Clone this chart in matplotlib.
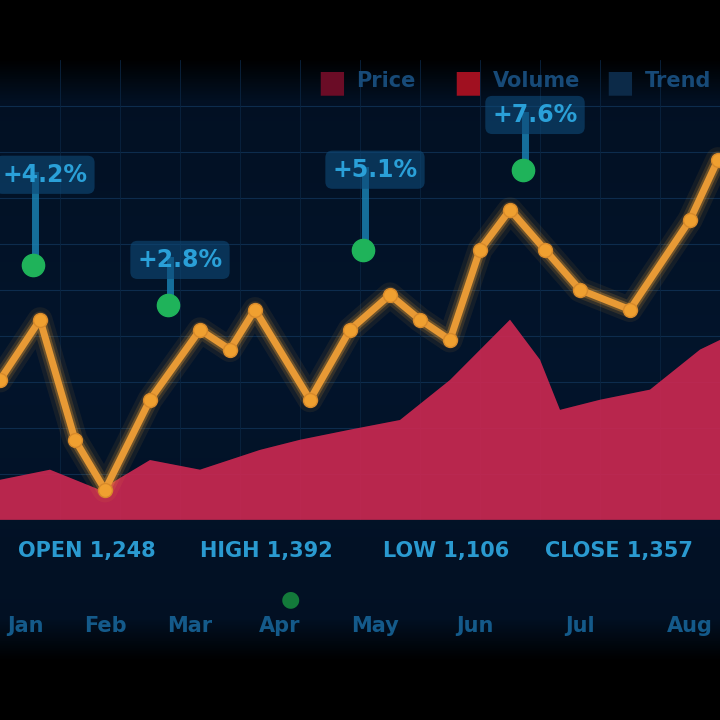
import numpy as np
import matplotlib
matplotlib.use("Agg")
import matplotlib.pyplot as plt

# price line (orange) and volume area (red)
days = [0, 40, 75, 105, 150, 200, 230, 255, 310, 350, 390, 420, 450, 480, 510, 545, 580, 630, 690, 718]
price = [30.4, 43.5, 17.4, 6.5, 26.1, 41.3, 37.0, 45.7, 26.1, 41.3, 48.9, 43.5, 39.1, 58.7, 67.4, 58.7, 50.0, 45.7, 65.2, 78.3]
vol_days = [0, 50, 100, 150, 200, 260, 300, 350, 400, 450, 510, 540, 560, 600, 650, 700, 720]
volume = [8.7, 10.9, 6.5, 13.0, 10.9, 15.2, 17.4, 19.6, 21.7, 30.4, 43.5, 34.8, 23.9, 26.1, 28.3, 37.0, 39.1]

# peak callouts
peak_days = [30, 165, 360, 520]
peak_vals = [55.4, 46.7, 58.7, 76.1]
peak_box = [75.0, 56.5, 76.1, 88.0]
peak_text = ["+4.2%", "+2.8%", "+5.1%", "+7.6%"]

legend_items = ["Price", "Volume", "Trend"]
tick_labels = ["Jan", "Feb", "Mar", "Apr", "May", "Jun", "Jul", "Aug"]
tick_pos = [25, 105, 190, 280, 375, 475, 580, 690]
stats = ["OPEN 1,248", "HIGH 1,392", "LOW 1,106", "CLOSE 1,357"]
stats_x = [0.12, 0.37, 0.62, 0.86]

fig = plt.figure(figsize=(7.2, 7.2), dpi=100, facecolor="black")

# background gradient
bg = fig.add_axes([0, 0, 1, 1], zorder=0)
rows = np.linspace(0, 1, 300)
g = np.clip(np.minimum((rows - 0.08) / 0.06, (0.92 - rows) / 0.06), 0, 1)
g = g * (1 - 0.5 * np.abs(rows - 0.5))
cols = np.array([0.01, 0.08, 0.17])[None, :] * g[:, None]
bg.imshow(cols.reshape(300, 1, 3), aspect="auto", extent=[0, 1, 0, 1])
bg.axis("off")

ax = fig.add_axes([0, 0.278, 1, 0.639], zorder=1)
ax.set_facecolor("none")
ax.set_xlim(0, 720)
ax.set_ylim(0, 100)
for y in np.arange(10, 100, 10):
    ax.axhline(y, color="#0d2c4d", lw=0.8, zorder=1)
for x in np.arange(60, 720, 60):
    ax.axvline(x, color="#0a2440", lw=0.6, zorder=1)

ax.fill_between(vol_days, volume, 0, color="#c0224a", alpha=0.9, lw=0, zorder=2)
ax.fill_between(vol_days, volume, 0, color="#ff4a7a", alpha=0.15, lw=0, zorder=2)

for w, a in [(18, 0.08), (12, 0.15), (8, 0.3)]:
    ax.plot(days, price, color="#f0a030", lw=w, alpha=a, solid_capstyle="round", zorder=3)
ax.plot(days, price, color="#e89a35", lw=5, marker="o", ms=10, mfc="#f0a030", mec="#d88a2a",
        solid_joinstyle="round", zorder=4)

for d, v, b, t in zip(peak_days, peak_vals, peak_box, peak_text):
    ax.plot([d + 5, d + 5], [v, b], color="#1b86b8", lw=5, alpha=0.8, zorder=4)
    ax.plot(d + 3, v, "o", color="#1fb35a", ms=16, zorder=5)
    ax.text(d + 15, b, t, color="#2aa0d8", fontsize=17, fontweight="bold", ha="center", va="center",
            bbox=dict(boxstyle="round,pad=0.3", fc="#0e4a78", ec="none", alpha=0.6), zorder=6)

ax.set_xticks([])
ax.set_yticks([])
for s in ax.spines.values():
    s.set_visible(False)

# legend row
leg_x = [0.46, 0.65, 0.86]
leg_c = ["#6a0c26", "#a01020", "#0c2a48"]
for lx, lc, lt in zip(leg_x, leg_c, legend_items):
    fig.text(lx, 0.885, "\u25a0", color=lc, fontsize=22, ha="center", va="center")
    fig.text(lx + 0.035, 0.888, lt, color="#174a78", fontsize=15, fontweight="bold", ha="left", va="center")

# stats strip
for sx, st in zip(stats_x, stats):
    fig.text(sx, 0.235, st, color="#2a9ad0", fontsize=15, fontweight="bold", ha="center", va="center")

# month labels
for tp, tl in zip(tick_pos, tick_labels):
    fig.text(tp / 720, 0.13, tl, color="#145a8a", fontsize=15, fontweight="bold", ha="center", va="center")
fig.text(290 / 720, 0.168, "\u25cf", color="#137a3a", fontsize=16, ha="center", va="center")

fig.savefig("out.png", dpi=100, facecolor="black")
